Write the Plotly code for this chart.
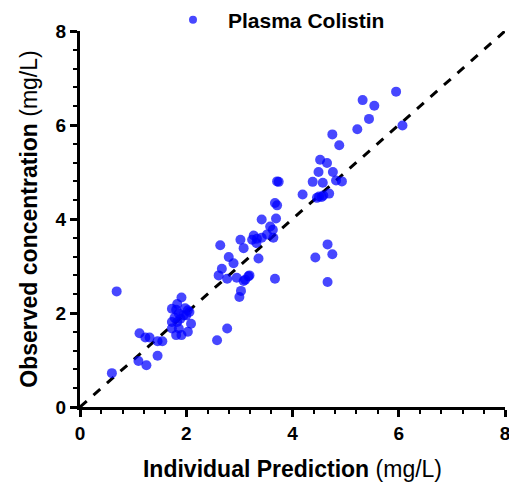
import plotly.graph_objects as go

# Individual prediction (x) vs observed concentration (y), mg/L
ipred = [0.60, 0.69, 1.10, 1.25, 1.12, 1.23, 1.31, 1.46, 1.46, 1.55,
         1.91, 1.83, 1.73, 1.81, 1.86, 1.95, 2.03, 2.06, 1.89, 1.73,
         2.09, 1.83, 1.73, 1.86, 2.03, 1.81, 1.91, 1.98, 1.78, 2.00,
         2.58, 2.77, 2.61, 2.67, 2.80, 2.89, 2.77, 2.95, 3.08, 3.17,
         3.03, 3.00, 2.64, 3.11, 3.19,
         4.52, 4.65, 4.49, 4.76, 4.38, 4.57, 4.82, 4.93, 4.19, 4.46,
         4.55, 4.58, 4.69, 3.71, 3.74, 3.67, 3.71, 3.42, 3.69, 3.58,
         3.63, 3.52, 3.64, 3.27, 3.24, 3.33, 3.42, 3.32, 3.02, 3.08,
         3.36, 3.67, 4.43, 4.66, 4.75, 4.66,
         5.95, 5.32, 5.54, 5.44, 5.22, 6.07, 4.75, 4.88, 4.50]
observed = [0.72, 2.46, 0.98, 0.89, 1.57, 1.48, 1.48, 1.09, 1.40, 1.40,
            2.33, 2.19, 2.09, 2.07, 1.99, 1.95, 2.06, 2.02, 1.88, 1.81,
            1.77, 1.81, 1.67, 1.67, 1.60, 1.53, 1.53, 2.10, 1.90, 1.95,
            1.42, 1.67, 2.80, 2.94, 3.19, 3.06, 2.73, 2.75, 2.68, 2.78,
            2.47, 2.34, 3.44, 2.71, 2.80,
            5.26, 5.19, 5.00, 5.00, 4.79, 4.77, 4.82, 4.80, 4.52, 4.45,
            4.47, 4.50, 4.54, 4.80, 4.79, 4.34, 4.29, 3.99, 4.01, 3.84,
            3.77, 3.67, 3.60, 3.65, 3.56, 3.58, 3.60, 3.49, 3.56, 3.38,
            3.16, 2.73, 3.18, 3.46, 3.25, 2.66,
            6.71, 6.53, 6.41, 6.13, 5.91, 5.99, 5.80, 5.57, 4.48]
identity = [0, 8]
x_ticks = [0, 2, 4, 6, 8]
y_ticks = [0, 2, 4, 6, 8]

FONT = "Liberation Sans, Arial, sans-serif"
W, H = 509, 478  # page body has an 8px margin

fig = go.Figure()
fig.add_trace(go.Scatter(
    x=identity, y=identity, mode="lines",
    line=dict(color="black", width=3, dash="dash"),
    showlegend=False, hoverinfo="skip"))
fig.add_trace(go.Scatter(
    x=ipred, y=observed, mode="markers",
    marker=dict(color="rgb(0,0,255)", size=10, opacity=0.72, line=dict(width=0)),
    showlegend=False))
fig.add_trace(go.Scatter(
    x=[None], y=[None], mode="markers", name="Plasma Colistin",
    marker=dict(color="rgb(0,0,255)", size=8, opacity=0.72)))

axis_common = dict(
    range=[0, 8], showgrid=False, zeroline=False,
    showline=True, linecolor="black", linewidth=3,
    ticks="outside", ticklen=7, tickwidth=3, tickcolor="black",
    tickfont=dict(family=FONT, size=19, color="black", weight="bold"),
    minor=dict(dtick=0.4, ticks="outside", ticklen=4, tickwidth=2, tickcolor="black"),
    automargin=False,
)

fig.update_layout(
    width=W, height=H,
    margin=dict(l=72, r=12, t=23, b=79, autoexpand=False),
    plot_bgcolor="white", paper_bgcolor="white",
    font=dict(family=FONT, color="black"),
    xaxis=dict(**axis_common, tickvals=x_ticks,
               title=dict(text="<b>Individual Prediction</b> (mg/L)",
                          font=dict(family=FONT, size=23), standoff=19)),
    yaxis=dict(**axis_common, tickvals=y_ticks,
               title=dict(text="<b>Observed concentration</b> (mg/L)",
                          font=dict(family=FONT, size=23), standoff=12)),
    legend=dict(orientation="h", xref="container", yref="container",
                x=150 / W, xanchor="left", y=1 - 12 / H, yanchor="middle",
                itemwidth=60,
                font=dict(family=FONT, size=21, weight="bold"),
                bgcolor="rgba(0,0,0,0)"),
)

fig.write_html("out.html")
